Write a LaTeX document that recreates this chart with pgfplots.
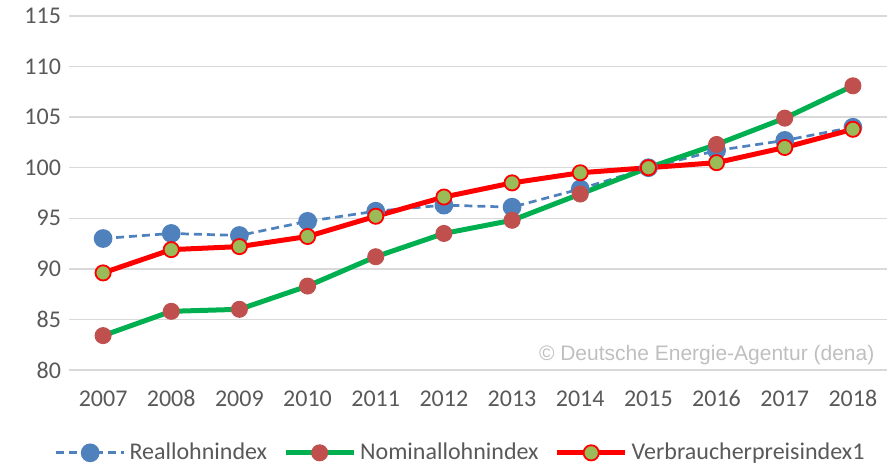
\documentclass[border=0pt]{standalone}
\usepackage{pgfplots}
\pgfplotsset{compat=1.18}
\usepackage{fontspec}
\setmainfont{Carlito}
\newfontfamily\arialfont{Liberation Sans}
\definecolor{txt}{HTML}{595959}
\definecolor{gridgray}{HTML}{D9D9D9}
\definecolor{cblue}{HTML}{4F81BD}
\definecolor{cbrown}{HTML}{C0504D}
\definecolor{cgreen}{HTML}{00B050}
\definecolor{cred}{HTML}{FF0000}
\definecolor{colive}{HTML}{9BBB59}
\begin{document}
\begin{tikzpicture}
\begin{axis}[
  scale only axis,
  width=409pt, height=177pt,
  xmin=2006.5, xmax=2018.5,
  ymin=80, ymax=115,
  xtick={2007,...,2018},
  ytick={80,85,...,115},
  /pgf/number format/1000 sep={},
  /pgf/number format/assume math mode=true,
  axis line style={draw=none},
  tick style={draw=none},
  ymajorgrids=true, xmajorgrids=false,
  major grid style={draw=gridgray, line width=0.75pt},
  ticklabel style={font=\fontsize{12}{14}\selectfont, text=txt},
  xticklabel style={yshift=-6pt, text height=8.5pt, text depth=0pt},
  yticklabel style={xshift=-0.5pt},
  legend columns=-1,
  legend style={draw=none, at={(0.48,-0.234)}, anchor=center,
    font=\fontsize{12}{14}\selectfont, text=txt,
    /tikz/every even column/.append style={column sep=6pt}},
  legend image code/.code={\draw[mark repeat=2,mark phase=2,#1] plot coordinates {(0pt,0pt) (17pt,0pt) (34pt,0pt)};},
]
\addplot[cblue, line width=1.35pt, dash pattern=on 4pt off 2.5pt, mark=*, mark size=4pt, mark options={solid, fill=cblue, draw=cblue}] coordinates {
(2007,93.0) (2008,93.5) (2009,93.3) (2010,94.7) (2011,95.7) (2012,96.3)
(2013,96.1) (2014,97.9) (2015,100.0) (2016,101.7) (2017,102.7) (2018,104.0)};
\addlegendentry{Reallohnindex}
\addplot[cgreen, line width=2.5pt, mark=*, mark size=4pt, mark options={fill=cbrown, draw=cbrown, line width=0.5pt}] coordinates {
(2007,83.4) (2008,85.8) (2009,86.0) (2010,88.3) (2011,91.2) (2012,93.5)
(2013,94.8) (2014,97.4) (2015,100.0) (2016,102.3) (2017,104.9) (2018,108.1)};
\addlegendentry{Nominallohnindex}
\addplot[cred, line width=2.5pt, mark=*, mark size=3.8pt, mark options={fill=colive, draw=cred, line width=0.9pt}] coordinates {
(2007,89.6) (2008,91.9) (2009,92.2) (2010,93.2) (2011,95.2) (2012,97.1)
(2013,98.5) (2014,99.5) (2015,100.0) (2016,100.5) (2017,102.0) (2018,103.8)};
\addlegendentry{Verbraucherpreisindex1}
\node[anchor=east, text=black!25, font=\arialfont\fontsize{10.5}{12}\selectfont, inner sep=0pt] at (rel axis cs:0.985,0.042) {\textcopyright{} Deutsche Energie-Agentur (dena)};
\end{axis}
\useasboundingbox (-34.5pt,-48.5pt) rectangle (412pt,185pt);
\end{tikzpicture}
\end{document}
